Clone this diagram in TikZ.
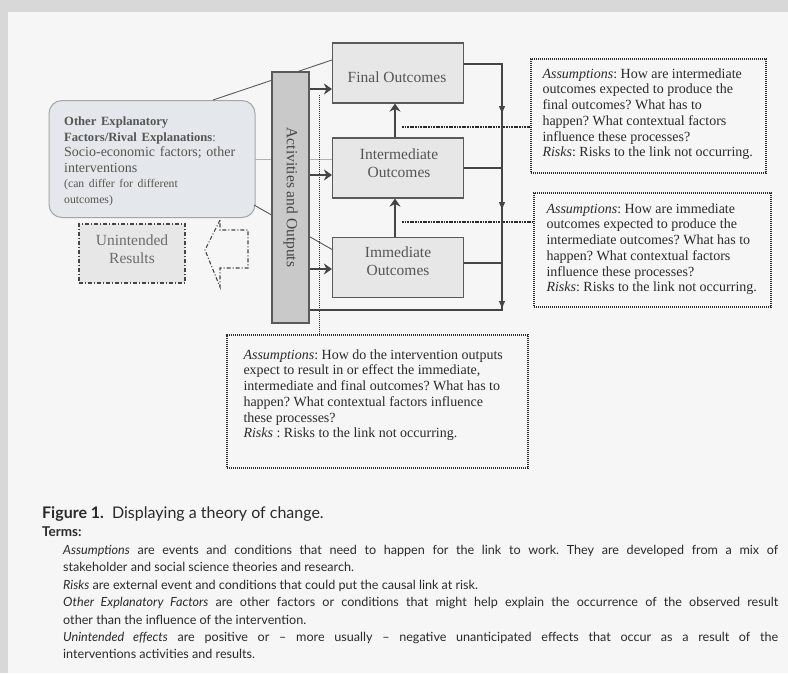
\documentclass[tikz,border=0pt]{standalone}
\usepackage{fontspec}
\setmainfont{Liberation Serif}
\newfontfamily\capfont[Ligatures=TeX]{Lato}
\usetikzlibrary{arrows.meta,decorations.markings,calc}
\frenchspacing
\definecolor{outer}{HTML}{D8D8D8}
\definecolor{page}{HTML}{F6F6F6}
\definecolor{boxfill}{HTML}{E7E7E7}
\definecolor{barfill}{HTML}{C9C9C9}
\definecolor{edge}{HTML}{5A5A5A}
\definecolor{othfill}{HTML}{E4E7EB}
\definecolor{txt}{HTML}{555555}
\definecolor{ink}{HTML}{2A2A2A}
\definecolor{arr}{HTML}{454545}
\tikzset{
  outbox/.style={draw=edge, line width=1.1pt, fill=boxfill, minimum width=131pt, minimum height=60pt, inner sep=0pt},
  outtext/.style={align=center, text=txt, font=\fontsize{15.5}{18}\selectfont, inner sep=0pt},
  barbox/.style={draw=edge, line width=1.1pt, fill=barfill, minimum width=37pt, minimum height=251pt, inner sep=0pt},
  othbox/.style={draw=gray!70, line width=1pt, fill=othfill, rounded corners=13pt, minimum width=206pt,
    minimum height=117pt, inner sep=0pt},
  othtext/.style={text width=180pt, align=left, text=txt, inner sep=0pt, anchor=north west, font=\fontsize{14}{15.5}\selectfont},
  unbox/.style={draw=arr, line width=1.1pt, dash pattern=on 4pt off 2pt on 1pt off 2pt, fill=boxfill,
    minimum width=106pt, minimum height=59pt, inner sep=0pt},
  untext/.style={align=center, text=gray!85!black, font=\fontsize{15.5}{18}\selectfont, inner sep=0pt},
  abox/.style={draw=ink, line width=1.4pt, dash pattern=on 1.3pt off 0.7pt, fill=page, inner sep=0pt},
  atext/.style={align=left, text=ink, font=\fontsize{14}{15.7}\selectfont, inner sep=0pt, anchor=north west},
  bigarrow/.style={draw=arr, line width=2.4pt, -{Stealth[length=8pt,width=11pt,inset=2.5pt]}},
  thinline/.style={draw=edge, line width=0.9pt},
  paleline/.style={draw=gray!60, line width=0.9pt},
  dashline/.style={draw=ink, line width=1.3pt, dash pattern=on 1.8pt off 0.8pt},
  dotline/.style={draw=ink, line width=1pt, dash pattern=on 1pt off 1pt},
  looptri/.style={draw=arr, line width=1.2pt},
  captext/.style={text=ink, inner sep=0pt},
}
\begin{document}
\begin{tikzpicture}[x=1pt,y=-1pt]
\useasboundingbox (0,0) rectangle (788,673);
\fill[outer] (0,0) rectangle (788,673);
\fill[page] (8,12) rectangle (788,673);

% outcome boxes
\node[outbox] (fin) at (398,73) {};
\node[outtext] (fint) at (397,77) {Final Outcomes};
\node[outbox] (int) at (398,168) {};
\node[outtext] (intt) at (399,163) {Intermediate\\Outcomes};
\node[outbox] (imm) at (398,267.5) {};
\node[outtext] (immt) at (398,261.5) {Immediate\\Outcomes};

% other explanatory factors
\node[othbox] (oth) at (152,159) {};
\node[othtext] (otht) at (64,117) {{\fontsize{12.6}{15.5}\selectfont\bfseries Other Explanatory\\Factors/Rival Explanations}{\fontsize{12.4}{15.5}\selectfont :}\\
Socio-economic factors; other\\interventions\\
{\fontsize{11.7}{15.5}\selectfont (can differ for different\\outcomes)}};

% unintended results
\node[unbox] (un) at (132,253.5) {};
\node[untext] (unt) at (132,249) {Unintended\\Results};
\coordinate (ua1) at (220,220);
\coordinate (ua2) at (205,250);
\coordinate (ua3) at (220,287);
\coordinate (ua4) at (220,268);
\coordinate (ua5) at (248,268);
\coordinate (ua6) at (248,230);
\coordinate (ua7) at (220,230);
\draw[draw=arr, line width=1.1pt, dash pattern=on 4pt off 2pt on 1pt off 2pt]
  (ua1) -- (ua2) -- (ua3) -- (ua4) -- (ua5) -- (ua6) -- (ua7) -- cycle;

% lines from other factors (behind bar)
\coordinate (o1) at (213,100);
\coordinate (f1) at (332,60);
\draw[thinline] (o1) -- (f1);
\coordinate (o2) at (255,159);
\draw[paleline] (o2) -- (o2 -| int.west);
\coordinate (o3) at (254,205);
\coordinate (i3) at (333,250);
\draw[thinline] (o3) -- (i3);

% assumption boxes
\node[abox, minimum width=235pt, minimum height=114pt] (b1) at (648.5,116) {};
\node[atext] (b1t) at ($(b1.north west)+(12,10)$) {\textit{Assumptions}: How are intermediate\\outcomes expected to produce the\\final outcomes? What has to\\happen? What contextual factors\\influence these processes?\\\textit{Risks}: Risks to the link not occurring.};
\node[abox, minimum width=237pt, minimum height=114pt] (b2) at (652.5,250) {};
\node[atext] (b2t) at ($(b2.north west)+(13,11)$) {\textit{Assumptions}: How are immediate\\outcomes expected to produce the\\intermediate outcomes? What has to\\happen? What contextual factors\\influence these processes?\\\textit{Risks}: Risks to the link not occurring.};
\node[abox, minimum width=301pt, minimum height=133pt] (b3) at (377.5,401.5) {};
\node[atext] (b3t) at ($(b3.north west)+(17,15)$) {\textit{Assumptions}: How do the intervention outputs\\expect to result in or effect the immediate,\\intermediate and final outcomes? What has to\\happen? What contextual factors influence\\these processes?\\\textit{Risks} : Risks to the link not occurring.};

% dotted vertical line to bottom box
\coordinate (dtop) at (319,95);
\draw[dotline] (dtop) -- (dtop |- b3.north);

% activities bar
\node[barbox] (bar) at (290.5,197.5) {};
\node[rotate=-90, text=arr, font=\fontsize{15.5}{18}\selectfont] (bartxt) at (bar.center) {Activities and Outputs};

% arrows from bar
\coordinate (y1) at (0,89);
\coordinate (y2) at (0,175);
\coordinate (y3) at (0,269);
\draw[bigarrow] (bar.east |- y1) -- (fin.west |- y1);
\draw[bigarrow] (bar.east |- y2) -- (int.west |- y2);
\draw[bigarrow] (bar.east |- y3) -- (imm.west |- y3);

% vertical arrows between outcomes
\coordinate (vx) at (395,0);
\draw[bigarrow] (int.north -| vx) -- (fin.south -| vx);
\draw[bigarrow] (imm.north -| vx) -- (int.south -| vx);

% dashed links to assumption boxes
\coordinate (d1) at (402,127);
\coordinate (d2) at (402,222);
\draw[dashline] (d1) -- (d1 -| b1.west);
\draw[dashline] (d2) -- (d2 -| b2.west);

% feedback loop on the right
\coordinate (lx) at (502,0);
\coordinate (ly) at (0,64);
\coordinate (lb) at (0,310);
\draw[looptri, decoration={markings,
    mark=at position 87pt with {\arrow{Triangle[length=7pt,width=6pt]}},
    mark=at position 183pt with {\arrow{Triangle[length=7pt,width=6pt]}},
    mark=at position 282pt with {\arrow{Triangle[length=7pt,width=6pt]}}}, postaction={decorate}]
  (fin.east |- ly) -- (lx |- ly) -- (lx |- lb) -- (bar.east |- lb);
\coordinate (ry2) at (0,168);
\coordinate (ry3) at (0,263);
\draw[looptri] (int.east |- ry2) -- (lx |- ry2);
\draw[looptri] (imm.east |- ry3) -- (lx |- ry3);

% caption
\node[captext, anchor=west, font=\capfont\fontsize{16}{18}\selectfont] (cap) at (42,514)
  {\textbf{Figure 1.}\hspace{4pt} Displaying a theory of change.};
\node[captext, anchor=west, font=\capfont\fontsize{13.5}{16}\selectfont\bfseries] (terms) at (42,532) {Terms:};
\node[captext, anchor=north west, text width=715pt, align=justify, font=\capfont\fontsize{12.6}{17.4}\selectfont] (body) at (63,545)
{\textit{Assumptions} are events and conditions that need to happen for the link to work. They are developed from a mix of\linebreak
stakeholder and social science theories and research.\\
\textit{Risks} are external event and conditions that could put the causal link at risk.\\
\textit{Other Explanatory Factors} are other factors or conditions that might help explain the occurrence of the observed result\linebreak
other than the influence of the intervention.\\
\textit{Unintended effects} are positive or – more usually – negative unanticipated effects that occur as a result of the\linebreak
interventions activities and results.};
\end{tikzpicture}
\end{document}
